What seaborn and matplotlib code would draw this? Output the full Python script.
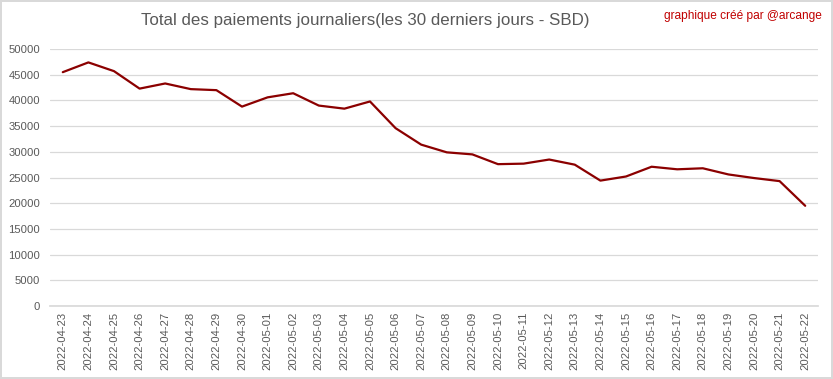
import matplotlib
matplotlib.use('Agg')
import matplotlib.pyplot as plt
import seaborn as sns
import pandas as pd

# data
dates = pd.date_range('2022-04-23', '2022-05-22').strftime('%Y-%m-%d').tolist()
payouts = [45500, 47400, 45700, 42300, 43300, 42200, 42000, 38800, 40600, 41400,
           39000, 38400, 39800, 34600, 31400, 29900, 29500, 27600, 27700, 28500,
           27500, 24400, 25200, 27100, 26600, 26800, 25600, 24900, 24300, 19500]
yticks = list(range(0, 50001, 5000))

df = pd.DataFrame({'date': dates, 'sbd': payouts})

sns.set_theme(style='white')
plt.rcParams['font.family'] = ['Liberation Sans', 'DejaVu Sans']

fig = plt.figure(figsize=(8.33, 3.79), dpi=100, linewidth=1.5, edgecolor='#d9d9d9')
ax = fig.add_axes([0.060, 0.1926, 0.922, 0.678])

sns.lineplot(data=df, x='date', y='sbd', ax=ax, color='#8b0000', linewidth=1.6)

ax.set_xlim(-0.5, len(dates) - 0.5)
ax.set_ylim(0, 50000)
ax.set_yticks(yticks)
ax.set_yticklabels([str(v) for v in yticks])
ax.yaxis.grid(True, color='#d9d9d9', linewidth=0.9)
ax.set_axisbelow(True)
ax.tick_params(axis='both', length=0, colors='#595959', labelsize=8.1)
ax.tick_params(axis='y', pad=7)
ax.tick_params(axis='x', labelrotation=90, pad=4)
ax.set_xlabel('')
ax.set_ylabel('')
for s in ['top', 'right', 'left']:
    ax.spines[s].set_visible(False)
ax.spines['bottom'].set_color('#d9d9d9')

fig.text(0.438, 0.945, 'Total des paiements journaliers(les 30 derniers jours - SBD)',
         ha='center', va='center', fontsize=12.2, color='#595959')
fig.text(0.987, 0.958, 'graphique créé par @arcange', ha='right', va='center',
         fontsize=8.6, color='#c00000')

fig.savefig('out.png', dpi=100, edgecolor=fig.get_edgecolor())
